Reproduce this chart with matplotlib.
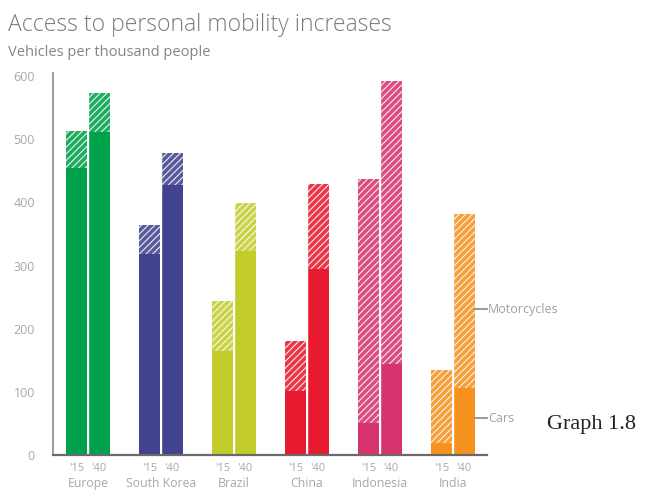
import matplotlib.pyplot as plt
import numpy as np

# data (vehicles per thousand people)
countries = ['Europe', 'South Korea', 'Brazil', 'China', 'Indonesia', 'India']
years = ["'15", "'40"]
cars_15 = [454, 318, 165, 101, 51, 19]
total_15 = [513, 364, 244, 180, 437, 134]
cars_40 = [511, 427, 323, 294, 144, 106]
total_40 = [573, 478, 399, 429, 593, 381]
colors = ['#00a14b', '#41438f', '#c2cd2c', '#e81a2f', '#d6336f', '#f6921e']

moto_15 = np.array(total_15) - np.array(cars_15)
moto_40 = np.array(total_40) - np.array(cars_40)

plt.rcParams['font.family'] = ['Open Sans', 'DejaVu Sans']
plt.rcParams['hatch.linewidth'] = 0.8

fig = plt.figure(figsize=(6.53, 4.93), dpi=100)
ax = fig.add_axes([0.081, 0.077, 0.665, 0.775])

x = np.arange(len(countries))
w = 0.29
off = 0.155

for i in range(len(countries)):
    for xo, c, m in [(x[i] - off, cars_15[i], moto_15[i]), (x[i] + off, cars_40[i], moto_40[i])]:
        ax.bar(xo, c, w, color=colors[i], linewidth=0)
        ax.bar(xo, m, w, bottom=c, color=colors[i], edgecolor='#ffffffb0',
               hatch='/////', linewidth=0, alpha=0.88)

# thin white separation between paired bars
for i in range(len(countries)):
    ax.axvline(x[i], ymin=0, ymax=max(total_15[i], total_40[i]) / 605,
               color='white', lw=1.0)

ax.set_xlim(-0.48, 5.47)
ax.set_ylim(0, 605)
ax.set_yticks([0, 100, 200, 300, 400, 500, 600])
ax.tick_params(axis='y', length=0, pad=13, labelsize=9, labelcolor='#a8a8a8')

pos = np.concatenate([x - off, x + off])
lbl = [years[0]] * len(x) + [years[1]] * len(x)
ax.set_xticks(pos)
ax.set_xticklabels(lbl)
ax.tick_params(axis='x', length=0, pad=6, labelsize=8, labelcolor='#a8a8a8')

for i, name in enumerate(countries):
    ax.text(x[i], -0.074, name, transform=ax.get_xaxis_transform(),
            ha='center', va='center', fontsize=8.8, color='#a8a8a8')

for s in ['top', 'right']:
    ax.spines[s].set_visible(False)
ax.spines['left'].set_color('#8a8a8a')
ax.spines['left'].set_linewidth(1.2)
ax.spines['bottom'].set_color('#6a6a6a')
ax.spines['bottom'].set_linewidth(1.6)

# series labels on the right
for yv, txt in [(231, 'Motorcycles'), (58, 'Cars')]:
    ax.plot([5.3, 5.47], [yv, yv], color='#888888', lw=1.2, clip_on=False)
    ax.text(5.48, yv, txt, ha='left', va='center', fontsize=9, color='#a0a0a0')

fig.text(0.012, 0.949, 'Access to personal mobility increases', fontsize=16.5,
         color='#7a7a7a', ha='left', va='center', fontweight='light')
fig.text(0.012, 0.893, 'Vehicles per thousand people', fontsize=10.5,
         color='#858585', ha='left', va='center')
fig.text(0.838, 0.138, 'Graph 1.8', fontsize=16, family='Liberation Serif',
         color='#222222', ha='left', va='center')

fig.savefig('out.png', dpi=100)
